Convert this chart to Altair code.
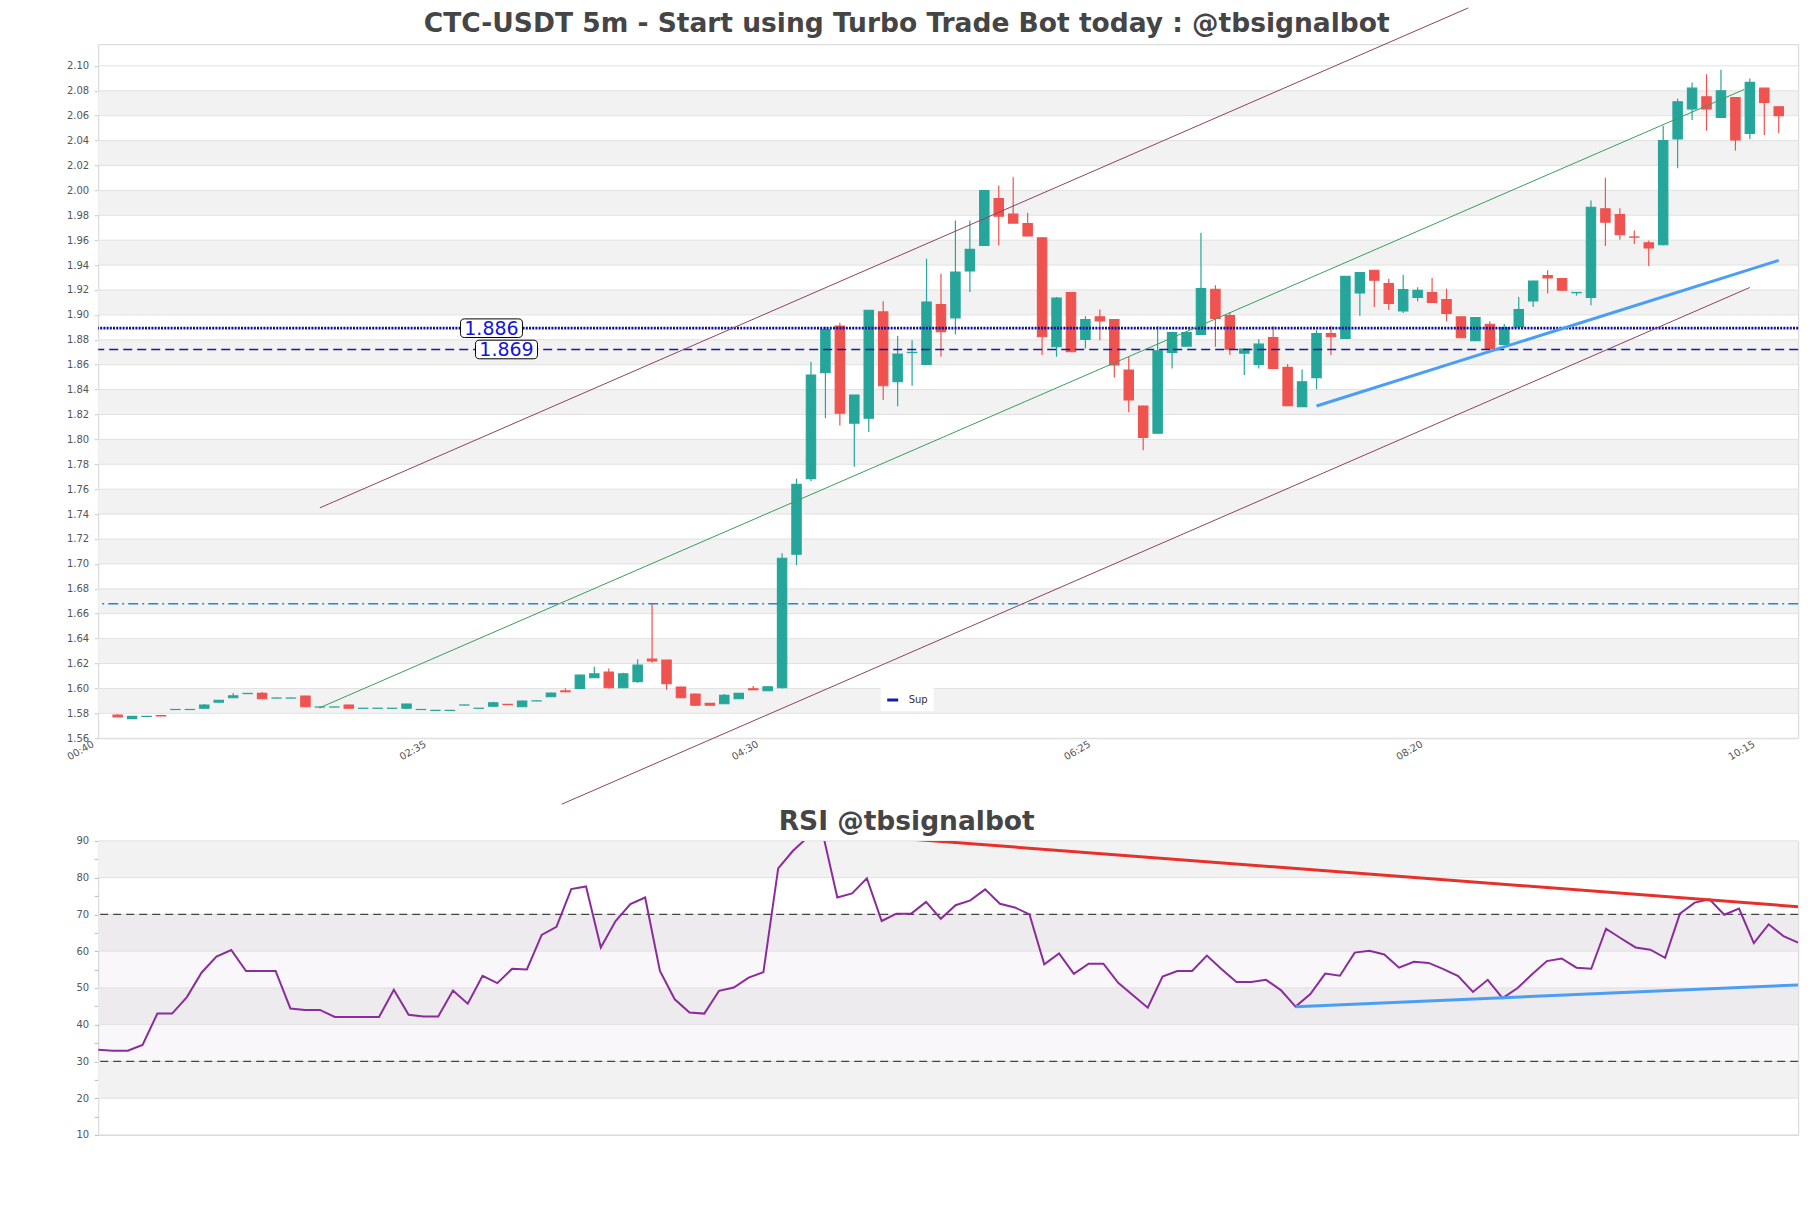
import altair as alt
import pandas as pd

TITLE = "CTC-USDT 5m - Start using Turbo Trade Bot today : @tbsignalbot"
RSI_TITLE = "RSI @tbsignalbot"

FIRST_CANDLE = "00:45"
STEP_MIN = 5
X_START, X_END = "00:40", "10:25"
X_TICK_LABELS = ["00:40", "02:35", "04:30", "06:25", "08:20", "10:15"]

opens = [
    1.5785, 1.5757, 1.5775, 1.5782, 1.5830, 1.5830, 1.5840, 1.5890, 1.5925, 1.5958,
    1.5960, 1.5922, 1.5922, 1.5939, 1.5850, 1.5850, 1.5867, 1.5840, 1.5840, 1.5840,
    1.5840, 1.5830, 1.5823, 1.5823, 1.5866, 1.5840, 1.5856, 1.5872, 1.5853, 1.5899,
    1.5933, 1.5980, 1.6000, 1.6085, 1.6131, 1.6005, 1.6053, 1.6235, 1.6227, 1.6011,
    1.5955, 1.5880, 1.5877, 1.5917, 1.5997, 1.5981, 1.6005, 1.7077, 1.7685, 1.8535,
    1.8910, 1.8130, 1.8170, 1.9024, 1.8463, 1.8697, 1.8602, 1.9083, 1.8976, 1.9352,
    1.9558, 1.9935, 1.9809, 1.9734, 1.9620, 1.8744, 1.9179, 1.8802, 1.8984, 1.8963,
    1.8557, 1.8268, 1.8050, 1.8698, 1.8749, 1.8843, 1.9206, 1.8995, 1.8693, 1.8602,
    1.8818, 1.8578, 1.8263, 1.8496, 1.8850, 1.8810, 1.9176, 1.9358, 1.9251, 1.9032,
    1.9139, 1.9179, 1.9123, 1.8984, 1.8792, 1.8925, 1.8762, 1.8904, 1.9112, 1.9315,
    1.9291, 1.9178, 1.9139, 1.9852, 1.9806, 1.9626, 1.9579, 1.9563, 2.0413, 2.0653,
    2.0752, 2.0586, 2.0746, 2.0458, 2.0821, 2.0672,
]
highs = [
    1.5793, 1.5777, 1.5777, 1.5784, 1.5832, 1.5832, 1.5875, 1.5907, 1.5963, 1.5962,
    1.5972, 1.5925, 1.5925, 1.5941, 1.5852, 1.5852, 1.5869, 1.5842, 1.5842, 1.5842,
    1.5877, 1.5832, 1.5825, 1.5825, 1.5868, 1.5842, 1.5893, 1.5874, 1.5901, 1.5902,
    1.5965, 1.6001, 1.6110, 1.6173, 1.6160, 1.6125, 1.6235, 1.6680, 1.6229, 1.6013,
    1.5957, 1.5882, 1.5955, 1.5962, 1.6019, 1.6015, 1.7085, 1.7685, 1.8624, 1.8904,
    1.8936, 1.8357, 1.9039, 1.9110, 1.8830, 1.8797, 1.9451, 1.9331, 1.9758, 1.9758,
    2.0001, 2.0039, 2.0106, 1.9820, 1.9622, 1.9144, 1.9181, 1.8990, 1.9043, 1.8965,
    1.8664, 1.8270, 1.8909, 1.8862, 1.8862, 1.9660, 1.9238, 1.9020, 1.8727, 1.8805,
    1.8909, 1.8605, 1.8562, 1.8877, 1.8910, 1.9312, 1.9341, 1.9360, 1.9291, 1.9323,
    1.9222, 1.9296, 1.9210, 1.8986, 1.8981, 1.8949, 1.8926, 1.9144, 1.9274, 1.9358,
    1.9293, 1.9181, 1.9918, 2.0101, 1.9856, 1.9678, 1.9598, 2.0519, 2.0735, 2.0867,
    2.0933, 2.0968, 2.0748, 2.0899, 2.0823, 2.0674,
]
lows = [
    1.5770, 1.5755, 1.5773, 1.5776, 1.5828, 1.5828, 1.5838, 1.5888, 1.5923, 1.5956,
    1.5915, 1.5920, 1.5920, 1.5851, 1.5840, 1.5848, 1.5838, 1.5838, 1.5838, 1.5838,
    1.5838, 1.5828, 1.5821, 1.5821, 1.5864, 1.5838, 1.5854, 1.5868, 1.5851, 1.5897,
    1.5931, 1.5971, 1.5998, 1.6083, 1.6000, 1.6003, 1.6045, 1.6205, 1.5989, 1.5923,
    1.5862, 1.5862, 1.5875, 1.5915, 1.5987, 1.5979, 1.6000, 1.6990, 1.7665, 1.8170,
    1.8112, 1.7780, 1.8060, 1.8317, 1.8267, 1.8430, 1.8600, 1.8664, 1.8843, 1.9184,
    1.9556, 1.9558, 1.9735, 1.9631, 1.8677, 1.8664, 1.8702, 1.8730, 1.8797, 1.8498,
    1.8218, 1.7912, 1.8048, 1.8570, 1.8747, 1.8841, 1.8744, 1.8677, 1.8517, 1.8570,
    1.8568, 1.8269, 1.8261, 1.8402, 1.8677, 1.8808, 1.8992, 1.9064, 1.9040, 1.9015,
    1.9110, 1.9097, 1.8949, 1.8814, 1.8789, 1.8728, 1.8760, 1.8902, 1.9064, 1.9171,
    1.9196, 1.9155, 1.9078, 1.9553, 1.9603, 1.9570, 1.9393, 1.9560, 2.0178, 2.0565,
    2.0479, 2.0584, 2.0319, 2.0413, 2.0445, 2.0458,
]
closes = [
    1.5770, 1.5775, 1.5776, 1.5778, 1.5831, 1.5831, 1.5867, 1.5905, 1.5940, 1.5960,
    1.5917, 1.5923, 1.5923, 1.5853, 1.5851, 1.5851, 1.5840, 1.5841, 1.5841, 1.5841,
    1.5875, 1.5831, 1.5824, 1.5824, 1.5867, 1.5841, 1.5885, 1.5869, 1.5899, 1.5900,
    1.5963, 1.5973, 1.6107, 1.6117, 1.6005, 1.6117, 1.6187, 1.6220, 1.6037, 1.5925,
    1.5864, 1.5864, 1.5944, 1.5960, 1.5989, 1.6013, 1.7045, 1.7640, 1.8517, 1.8883,
    1.8210, 1.8357, 1.9037, 1.8431, 1.8685, 1.8699, 1.9104, 1.8864, 1.9344, 1.9526,
    1.9999, 1.9793, 1.9737, 1.9633, 1.8824, 1.9136, 1.8704, 1.8963, 1.8952, 1.8597,
    1.8317, 1.8015, 1.8712, 1.8859, 1.8859, 1.9211, 1.8971, 1.8725, 1.8725, 1.8765,
    1.8570, 1.8271, 1.8463, 1.8850, 1.8824, 1.9310, 1.9339, 1.9278, 1.9091, 1.9203,
    1.9198, 1.9099, 1.9011, 1.8816, 1.8979, 1.8730, 1.8899, 1.9043, 1.9272, 1.9296,
    1.9198, 1.9180, 1.9865, 1.9745, 1.9643, 1.9624, 1.9537, 2.0400, 2.0712, 2.0821,
    2.0653, 2.0800, 2.0405, 2.0867, 2.0706, 2.0600,
]
rsi_values = [
    33.2, 32.9, 32.9, 34.5, 43.0, 43.0, 47.5, 54.2, 58.5, 60.3,
    54.6, 54.6, 54.6, 44.4, 44.0, 44.0, 42.1, 42.1, 42.1, 42.1,
    49.5, 42.7, 42.2, 42.2, 49.3, 45.7, 53.3, 51.3, 55.2, 55.0,
    64.4, 66.6, 76.9, 77.6, 61.0, 68.2, 72.8, 74.6, 54.6, 46.9,
    43.3, 43.0, 49.2, 50.1, 52.8, 54.3, 82.5, 87.3, 91.0, 92.3,
    74.6, 75.7, 79.8, 68.2, 70.2, 70.2, 73.4, 68.8, 72.5, 73.8,
    76.8, 72.9, 71.9, 70.0, 56.4, 59.4, 53.8, 56.6, 56.6, 51.4,
    48.0, 44.6, 53.1, 54.6, 54.6, 58.8, 55.1, 51.6, 51.6, 52.2,
    49.4, 44.9, 48.3, 53.9, 53.3, 59.6, 60.1, 59.1, 55.5, 57.1,
    56.8, 55.1, 53.2, 48.9, 52.2, 47.2, 49.9, 53.7, 57.3, 58.0,
    55.5, 55.2, 66.1, 63.5, 61.0, 60.4, 58.2, 70.2, 73.2, 74.1,
    69.9, 71.6, 62.2, 67.3, 64.1, 62.3,
]

# horizontal levels
SUP_LEVELS = [1.8893, 1.8722]
SUP_LABELS = ["1.886", "1.869"]
SUP_LABEL_AT = ["02:54.4", "02:59.6"]
CYAN_LEVEL = 1.668

# channel / trend segments (time in minutes of day, price)
chan_t1 = [115.0, 198.75]
chan_p1 = [1.745, 1.507]
chan_t2 = [512.5, 610.0]
chan_p2 = [2.1465, 1.922]
mid_t1, mid_p1, mid_t2, mid_p2 = [115.0], [1.5845], [608.0], [2.081]
sup_t1, sup_p1, sup_t2, sup_p2 = [460.0], [1.8268], [620.0], [1.9438]

# RSI trend segments
rsi_res_t1, rsi_res_v1, rsi_res_t2, rsi_res_v2 = [290.0], [92.3], [620.0], [72.1]
rsi_sup_t1, rsi_sup_v1, rsi_sup_t2, rsi_sup_v2 = [450.0], [44.9], [620.0], [50.8]

PRICE_DOMAIN = [1.56, 2.1174]
price_ticks = [round(1.56 + 0.02 * i, 2) for i in range(28)]
band_lo = [1.58, 1.62, 1.66, 1.70, 1.74, 1.78, 1.82, 1.86, 1.90, 1.94, 1.98, 2.02, 2.06]
band_hi = [round(v + 0.02, 2) for v in band_lo]

rsi_ticks = [10, 15, 20, 25, 30, 35, 40, 45, 50, 55, 60, 65, 70, 75, 80, 85, 90]
rsi_grid = [10, 20, 30, 40, 50, 60, 70, 80, 90]
rsi_band_lo = [80, 60, 40, 20]
rsi_band_hi = [90, 70, 50, 30]
rsi_levels = [70, 30]
rsi_zone = [30, 70]

GREEN = "#26a69a"
RED = "#ef5350"
FONT = "DejaVu Sans"


def to_min(s):
    h, m = s.split(":")
    return int(h) * 60 + float(m)


n = len(opens)
assert all(len(a) == n for a in (highs, lows, closes, rsi_values))
t0 = to_min(FIRST_CANDLE)
minutes = [t0 + STEP_MIN * i for i in range(n)]

candles = pd.DataFrame({"t": minutes, "o": opens, "h": highs, "l": lows, "c": closes})
candles["dir"] = ["up" if c >= o else "down" for o, c in zip(opens, closes)]

x_tick_vals = [to_min(s) for s in X_TICK_LABELS]
label_expr = " : ".join(f"datum.value == {v} ? '{s}'" for v, s in zip(x_tick_vals, X_TICK_LABELS)) + " : ''"

x_scale = alt.Scale(domain=[to_min(X_START), to_min(X_END)], nice=False, zero=False)
y_scale = alt.Scale(domain=PRICE_DOMAIN, nice=False, zero=False)

x_axis = alt.Axis(values=x_tick_vals, labelExpr=label_expr, labelAngle=330, labelAlign="right",
                  labelBaseline="top", labelPadding=0.5, labelOffset=-13, ticks=False, domain=False,
                  grid=False, title=None, labelFlush=False, labelOverlap=False,
                  labelFont=FONT, labelFontSize=10, labelColor="#555555")
y_axis = alt.Axis(values=price_ticks, format=".2f", title=None, grid=False, domain=False,
                  tickSize=4, tickColor="#cccccc", labelPadding=5.5, labelOverlap=False,
                  labelFont=FONT, labelFontSize=10, labelColor="#555555")


def X(f):
    return alt.X(f, type="quantitative", scale=x_scale, axis=x_axis)


def Y(f):
    return alt.Y(f, type="quantitative", scale=y_scale, axis=y_axis)


dir_color = alt.Color("dir:N", scale=alt.Scale(domain=["up", "down"], range=[GREEN, RED]), legend=None)
dir_stroke = alt.Stroke("dir:N", scale=alt.Scale(domain=["up", "down"], range=[GREEN, RED]), legend=None)

bands = alt.Chart(pd.DataFrame({"lo": band_lo, "hi": band_hi})).mark_rect(color="#f2f2f2").encode(
    y=Y("lo"), y2="hi")
grid = alt.Chart(pd.DataFrame({"v": price_ticks})).mark_rule(color="#e1e1e1", strokeWidth=1).encode(y=Y("v"))

wicks = alt.Chart(candles).mark_rule(strokeWidth=1.2).encode(x=X("t"), y=Y("l"), y2="h", color=dir_color)
bodies = alt.Chart(candles).mark_bar(size=9.4, strokeWidth=1.1).encode(
    x=X("t"), y=Y("o"), y2="c", color=dir_color, stroke=dir_stroke)

cyan = alt.Chart(pd.DataFrame({"v": [CYAN_LEVEL]})).mark_rule(
    color="#1a8ad2", strokeWidth=1.3, strokeDash=[10, 4, 2, 4]).encode(y=Y("v"))
dotted = alt.Chart(pd.DataFrame({"v": [SUP_LEVELS[0]]})).mark_rule(
    color="#0b0ba6", strokeWidth=2.8, strokeDash=[2, 1.2]).encode(y=Y("v"))
dashed = alt.Chart(pd.DataFrame({"v": [SUP_LEVELS[1]], "name": ["Sup"]})).mark_rule(
    strokeWidth=1.5, strokeDash=[9, 5]).encode(
    y=Y("v"),
    color=alt.Color("name:N", scale=alt.Scale(domain=["Sup"], range=["#1a1aa8"]),
                    legend=alt.Legend(orient="none", legendX=782.5, legendY=643.7, title=None,
                                      symbolType="stroke", symbolSize=121, symbolStrokeWidth=3,
                                      symbolDash=[1, 0], fillColor="white", padding=5,
                                      labelFont=FONT, labelFontSize=10, labelColor="#333333",
                                      labelOffset=9)))

channel = alt.Chart(pd.DataFrame({"t1": chan_t1, "p1": chan_p1, "t2": chan_t2, "p2": chan_p2})).mark_rule(
    color="#8d4262", strokeWidth=1, clip=False).encode(x=X("t1"), x2="t2", y=Y("p1"), y2="p2")
mid = alt.Chart(pd.DataFrame({"t1": mid_t1, "p1": mid_p1, "t2": mid_t2, "p2": mid_p2})).mark_rule(
    color="#3a9d5d", strokeWidth=1, clip=False).encode(x=X("t1"), x2="t2", y=Y("p1"), y2="p2")
support = alt.Chart(pd.DataFrame({"t1": sup_t1, "p1": sup_p1, "t2": sup_t2, "p2": sup_p2})).mark_rule(
    color="#4a9ff5", strokeWidth=3, clip=False).encode(x=X("t1"), x2="t2", y=Y("p1"), y2="p2")

lab_df = pd.DataFrame({"t": [to_min(s) for s in SUP_LABEL_AT], "v": SUP_LEVELS, "lab": SUP_LABELS})
BOX = ("M -0.87 -0.3 L 0.87 -0.3 Q 1 -0.3 1 -0.17 L 1 0.17 Q 1 0.3 0.87 0.3 "
       "L -0.87 0.3 Q -1 0.3 -1 0.17 L -1 -0.17 Q -1 -0.3 -0.87 -0.3 Z")
lab_box = alt.Chart(lab_df).mark_point(shape=BOX, size=3844, filled=True, fill="white", stroke="black",
                                       strokeWidth=1, opacity=1).encode(x=X("t"), y=Y("v"))
lab_text = alt.Chart(lab_df).mark_text(font=FONT, fontSize=19, color="#1414d8", align="center",
                                       baseline="middle", dy=0.5).encode(x=X("t"), y=Y("v"), text="lab:N")

title_main = alt.Chart(pd.DataFrame({"s": [TITLE]})).mark_text(
    font=FONT, fontSize=26.5, fontWeight="bold", color="#454545", align="center", baseline="alphabetic"
).encode(x=alt.value(808.5), y=alt.value(-12.2), text="s:N")

main = alt.layer(bands, grid, wicks, bodies, cyan, dotted, dashed, channel, mid, support,
                 lab_box, lab_text, title_main).resolve_scale(
    color="independent", stroke="independent").properties(width=1700, height=694)

# ---------------- RSI panel
rsi_df = pd.DataFrame({"t": minutes, "rsi": rsi_values})
rx_scale = alt.Scale(domain=[minutes[0], minutes[-1]], nice=False, zero=False)
ry_scale = alt.Scale(domain=[10, 90], nice=False, zero=False)
ry_axis = alt.Axis(values=rsi_ticks, labelExpr="datum.value % 10 == 0 ? datum.label : ''", title=None,
                   grid=False, domain=False, tickSize=4, tickColor="#bbbbbb", labelPadding=5.5,
                   labelFont=FONT, labelFontSize=10, labelColor="#555555", labelOverlap=False)


def RX(f):
    return alt.X(f, type="quantitative", scale=rx_scale, axis=None)


def RY(f):
    return alt.Y(f, type="quantitative", scale=ry_scale, axis=ry_axis)


r_bands = alt.Chart(pd.DataFrame({"lo": rsi_band_lo, "hi": rsi_band_hi})).mark_rect(color="#f2f2f2").encode(
    y=RY("lo"), y2="hi")
r_zone = alt.Chart(pd.DataFrame({"lo": [rsi_zone[0]], "hi": [rsi_zone[1]]})).mark_rect(
    color="#b9a6c6", opacity=0.09).encode(y=RY("lo"), y2="hi")
r_grid = alt.Chart(pd.DataFrame({"v": rsi_grid})).mark_rule(color="#e1e1e1", strokeWidth=1).encode(y=RY("v"))
r_levels = alt.Chart(pd.DataFrame({"v": rsi_levels})).mark_rule(
    color="#444444", strokeWidth=1.2, strokeDash=[8, 5]).encode(y=RY("v"))
r_line = alt.Chart(rsi_df).mark_line(color="#8b2c9c", strokeWidth=2, clip=True).encode(x=RX("t"), y=RY("rsi"))
r_res = alt.Chart(pd.DataFrame({"t1": rsi_res_t1, "v1": rsi_res_v1, "t2": rsi_res_t2, "v2": rsi_res_v2})).mark_rule(
    color="#e8302a", strokeWidth=3, clip=True).encode(x=RX("t1"), x2="t2", y=RY("v1"), y2="v2")
r_sup = alt.Chart(pd.DataFrame({"t1": rsi_sup_t1, "v1": rsi_sup_v1, "t2": rsi_sup_t2, "v2": rsi_sup_v2})).mark_rule(
    color="#4a9ff5", strokeWidth=3, clip=True).encode(x=RX("t1"), x2="t2", y=RY("v1"), y2="v2")
title_rsi = alt.Chart(pd.DataFrame({"s": [RSI_TITLE]})).mark_text(
    font=FONT, fontSize=26.5, fontWeight="bold", color="#454545", align="center", baseline="alphabetic"
).encode(x=alt.value(808.5), y=alt.value(-11.3), text="s:N")

rsi_chart = alt.layer(r_bands, r_zone, r_grid, r_levels, r_line, r_res, r_sup, title_rsi).properties(
    width=1700, height=294)

chart = alt.vconcat(main, rsi_chart, spacing=102.7, bounds="flush").properties(
    padding={"left": 64.2, "top": 6.2, "right": 8, "bottom": 8}, background="white"
).configure_view(stroke="#d4d4d4", strokeWidth=1)

chart.save("out.html", embed_options={"renderer": "svg", "actions": False})
